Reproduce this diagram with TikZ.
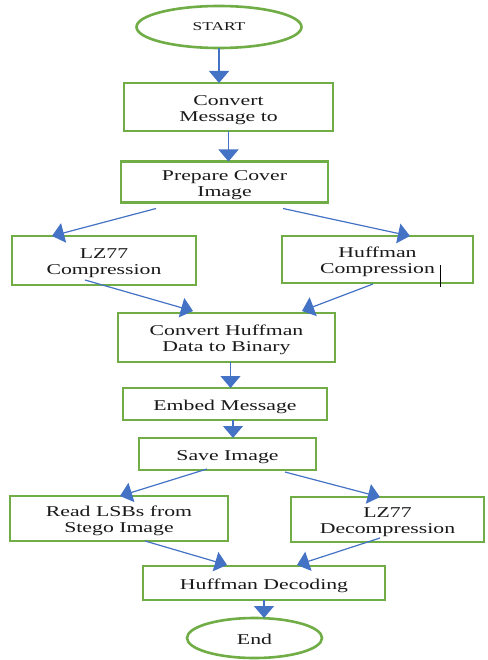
\documentclass[tikz,border=0pt]{standalone}
\usepackage{fontspec}
\setmainfont{Liberation Serif}[FakeStretch=1.45]
\usetikzlibrary{shapes.geometric,arrows.meta,calc}
\definecolor{boxgreen}{HTML}{70AD47}
\definecolor{arrblue}{HTML}{4472C4}
\newcommand{\lowstrut}{\rule{0pt}{16pt}}
\begin{document}
\begin{tikzpicture}[x=1pt,y=-1pt,
  every node/.style={inner sep=0pt,outer sep=0pt,align=center,text=black!90,
    font=\fontsize{15}{16}\selectfont},
  stepbox/.style={draw=boxgreen,line width=2.6pt,rectangle},
  termnode/.style={draw=boxgreen,line width=2.6pt,ellipse},
  arr/.style={draw=arrblue,line width=1.2pt,
    -{Triangle[width=20pt,length=12pt,fill=arrblue]}}]
\useasboundingbox (0,0) rectangle (487,660);
\node[termnode,minimum width=165pt,minimum height=42pt,font=\fontsize{12}{13}\selectfont] (start) at (219,27) {START};
\node[stepbox,minimum width=209pt,minimum height=48pt] (conv) at (228.5,107) {\lowstrut Convert\\Message to};
\node[stepbox,minimum width=207pt,minimum height=41pt] (prep) at (224.5,182) {\lowstrut Prepare Cover\\Image};
\node[stepbox,minimum width=184pt,minimum height=49pt] (lz) at (104,260.5) {\lowstrut LZ77\\Compression};
\node[stepbox,minimum width=191pt,minimum height=47pt] (huff) at (377.5,259.5) {\lowstrut Huffman\\Compression};
\node[stepbox,minimum width=217pt,minimum height=49pt] (bin) at (226.5,337.5) {\lowstrut Convert Huffman\\Data to Binary};
\node[stepbox,minimum width=204pt,minimum height=32pt] (embed) at (225,404) {\lowstrut Embed Message};
\node[stepbox,minimum width=177pt,minimum height=32pt] (save) at (227.5,454) {\lowstrut Save Image};
\node[stepbox,minimum width=218pt,minimum height=45pt] (read) at (119,518.5) {\lowstrut Read LSBs from\\Stego Image};
\node[stepbox,minimum width=193pt,minimum height=45pt] (lzd) at (387.5,519.5) {\lowstrut LZ77\\Decompression};
\node[stepbox,minimum width=242pt,minimum height=34pt] (hdec) at (264,583) {\lowstrut Huffman Decoding};
\node[termnode,minimum width=135pt,minimum height=40pt] (end) at (254.5,638) {\rule{0pt}{14pt}End};
% cursor mark
\draw[black,line width=0.9pt] ([xshift=158pt,yshift=18pt]huff.south west) -- ([xshift=158pt,yshift=-4pt]huff.south west);
% connectors
\draw[arr] (start.south) -- (start.south |- conv.north);
\draw[arr] (conv.south) -- (conv.south |- prep.north);
\draw[arr] ([xshift=35pt,yshift=-6pt]prep.south west) -- ([xshift=40pt]lz.north west);
\draw[arr] ([xshift=-45pt,yshift=-6pt]prep.south east) -- ([xshift=128pt]huff.north west);
\draw[arr] ([xshift=73pt,yshift=5pt]lz.south west) -- ([xshift=75pt,yshift=2pt]bin.north west);
\draw[arr] ([xshift=91pt,yshift=-1pt]huff.south west) -- ([xshift=-33pt,yshift=2pt]bin.north east);
\draw[arr] ([xshift=4pt]bin.south) -- ([xshift=4pt]bin.south |- embed.north);
\draw[arr] ([xshift=8pt]embed.south) -- ([xshift=8pt]embed.south |- save.north);
\draw[arr] ([xshift=68pt,yshift=1pt]save.south west) -- ([xshift=110pt]read.north west);
\draw[arr] ([xshift=-31pt,yshift=-2pt]save.south east) -- ([xshift=89pt]lzd.north west);
\draw[arr] ([xshift=135pt]read.south west) -- ([xshift=84pt,yshift=1pt]hdec.north west);
\draw[arr] ([xshift=89pt,yshift=4pt]lzd.south west) -- ([xshift=154pt,yshift=1pt]hdec.north west);
\draw[arr] (hdec.south) -- (hdec.south |- end.north);
\end{tikzpicture}
\end{document}
